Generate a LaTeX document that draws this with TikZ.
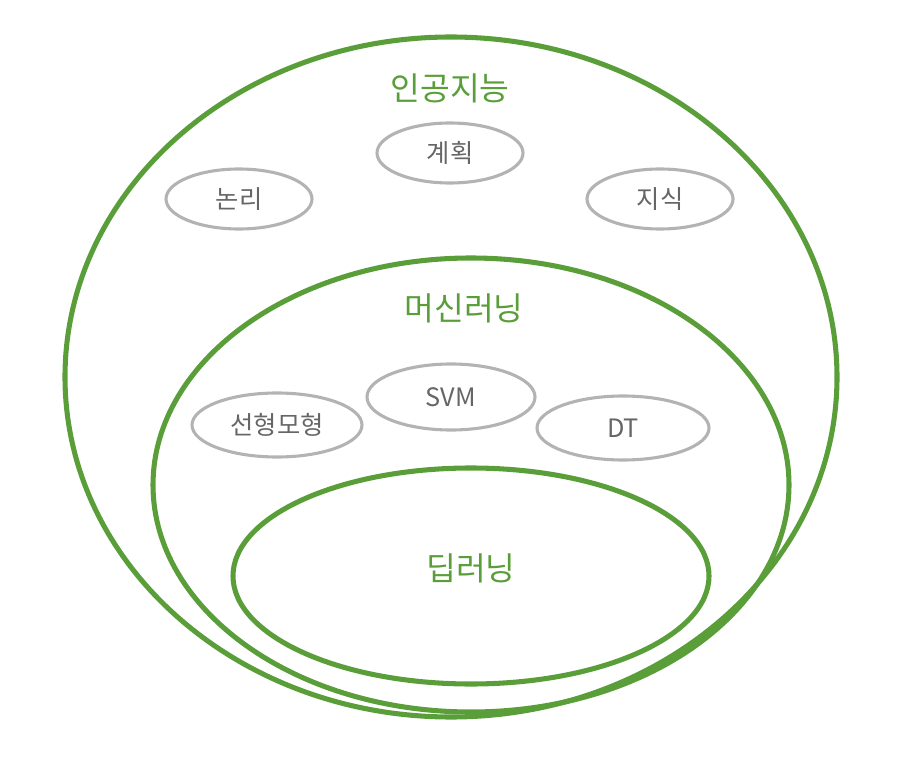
\documentclass[tikz,border=0pt]{standalone}
\usepackage{fontspec}
\setmainfont{Noto Sans CJK KR}
\usetikzlibrary{shapes.geometric}
\definecolor{aigreen}{HTML}{5A9E3A}
\definecolor{topicgray}{HTML}{B3B3B3}
\definecolor{textgray}{HTML}{666666}
\tikzset{
    area/.style={ellipse, draw=aigreen, line width=3.6pt, inner sep=0pt},
    topic/.style={ellipse, draw=topicgray, line width=2.2pt, text=textgray,
        font=\fontsize{18}{20}\selectfont, inner sep=0pt},
    title/.style={text=aigreen, font=\fontsize{23}{26}\selectfont},
}
\begin{document}
\begin{tikzpicture}[x=0.025cm, y=-0.025cm]
    \useasboundingbox (0,0) rectangle (900,760);
    % nested areas
    \node[area, minimum width=772\pgflinewidth/\pgflinewidth*0.025cm, minimum height=680*0.025cm] (ai) at (451,377) {};
    \node[area, minimum width=636*0.025cm, minimum height=454*0.025cm] (ml) at (471,485) {};
    \node[area, minimum width=476*0.025cm, minimum height=216*0.025cm] (dl) at (471,576) {};
    % titles
    \node[title] (aititle) at (450,88)  {인공지능};
    \node[title] (mltitle) at (464,308) {머신러닝};
    \node[title] (dltitle) at (471,568) {딥러닝};
    % topics
    \node[topic, minimum width=146*0.025cm, minimum height=60*0.025cm] (logic) at (239,199) {논리};
    \node[topic, minimum width=146*0.025cm, minimum height=60*0.025cm] (plan)  at (450,153) {계획};
    \node[topic, minimum width=146*0.025cm, minimum height=60*0.025cm] (know)  at (660,199) {지식};
    \node[topic, minimum width=170*0.025cm, minimum height=64*0.025cm] (lin)   at (277,425) {선형모형};
    \node[topic, minimum width=168*0.025cm, minimum height=66*0.025cm] (svm)   at (451,397) {SVM};
    \node[topic, minimum width=172*0.025cm, minimum height=64*0.025cm] (dt)    at (623,428) {DT};
\end{tikzpicture}
\end{document}
